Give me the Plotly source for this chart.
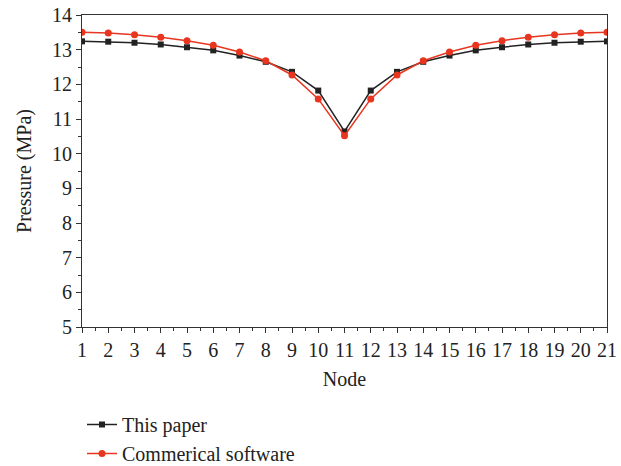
import plotly.graph_objects as go

# Pressure at each node along the pipeline
nodes = list(range(1, 22))
this_paper = [13.24, 13.23, 13.20, 13.15, 13.07, 12.98, 12.83, 12.65, 12.36, 11.82, 10.64,
              11.82, 12.36, 12.65, 12.83, 12.98, 13.07, 13.15, 13.20, 13.23, 13.24]
commercial = [13.50, 13.48, 13.43, 13.36, 13.26, 13.13, 12.93, 12.68, 12.27, 11.58, 10.52,
              11.58, 12.27, 12.68, 12.93, 13.13, 13.26, 13.36, 13.43, 13.48, 13.50]

BLACK = "#222222"
RED = "#e8351f"
FONT = "Liberation Serif"
TXT = "#222222"

fig = go.Figure()
fig.add_trace(go.Scatter(
    x=nodes, y=this_paper, name="This paper", mode="lines+markers",
    line=dict(color=BLACK, width=1.5),
    marker=dict(symbol="square", size=6, color=BLACK),
))
fig.add_trace(go.Scatter(
    x=nodes, y=commercial, name="Commerical software", mode="lines+markers",
    line=dict(color=RED, width=1.5),
    marker=dict(symbol="circle", size=7, color=RED),
))

axis_common = dict(
    showline=True, linecolor="#333333", linewidth=1.2, mirror=True,
    showgrid=False, zeroline=False,
    ticks="outside", ticklen=5, tickwidth=1, tickcolor="#333333",
    tickfont=dict(family=FONT, size=20, color=TXT),
)

fig.update_xaxes(
    range=[1, 21], tickmode="linear", tick0=1, dtick=1,
    title=dict(text="Node", font=dict(family=FONT, size=20, color=TXT), standoff=11),
    minor=dict(ticks="outside", ticklen=3, tickcolor="#333333", dtick=0.5, tick0=1),
    **axis_common,
)
fig.update_yaxes(
    range=[5, 14], tickmode="linear", tick0=5, dtick=1,
    title=dict(text="Pressure (MPa)", font=dict(family=FONT, size=20, color=TXT), standoff=14),
    minor=dict(ticks="outside", ticklen=3, tickcolor="#333333", dtick=0.5, tick0=5),
    **axis_common,
)

fig.update_layout(
    width=621, height=466,
    margin=dict(l=82, r=14, t=15, b=139, autoexpand=False),
    paper_bgcolor="white", plot_bgcolor="white",
    showlegend=True,
    legend=dict(
        x=0.0, y=-0.25, xanchor="left", yanchor="top",
        font=dict(family=FONT, size=20, color=TXT),
        bgcolor="rgba(0,0,0,0)", tracegroupgap=0,
    ),
)

fig.write_html("out.html")
